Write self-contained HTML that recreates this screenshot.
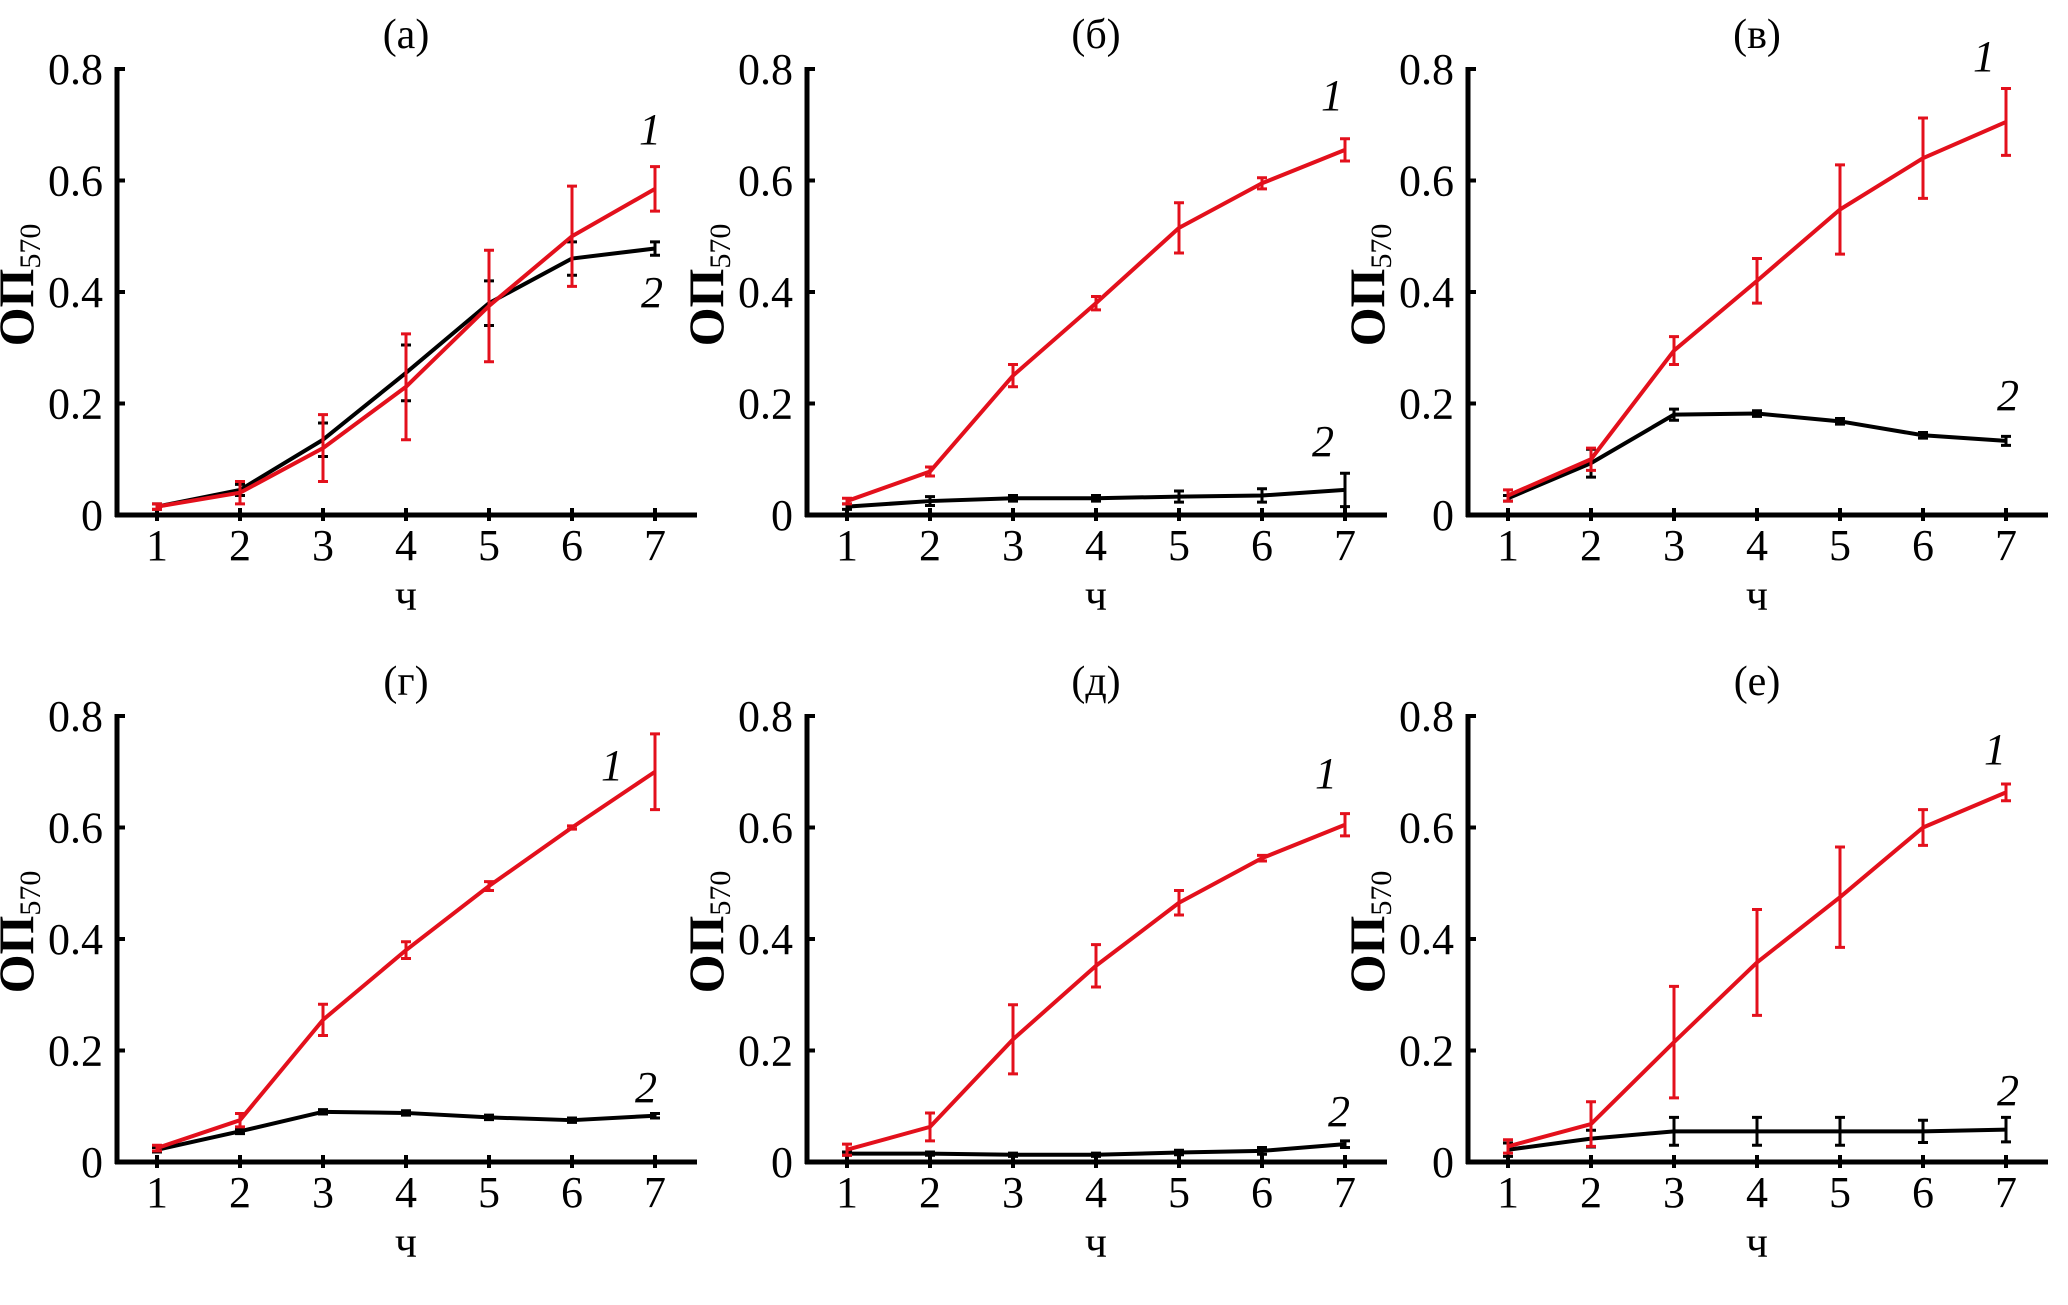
<!DOCTYPE html>
<html><head><meta charset="utf-8"><style>
html,body{margin:0;padding:0;background:#fff;}
svg{display:block;font-family:"Liberation Serif",serif;}
</style></head><body>
<svg id="fig" width="2068" height="1305" viewBox="0 0 2068 1305" xmlns="http://www.w3.org/2000/svg"></svg>
<script>
const hours = [1,2,3,4,5,6,7];
const yTicks = [0,0.2,0.4,0.6,0.8];
const yTickLabels = ["0","0.2","0.4","0.6","0.8"];
const panelTitles = ["(а)","(б)","(в)","(г)","(д)","(е)"];
const redA=[0.015,0.04,0.12,0.23,0.375,0.5,0.585], redErrA=[0.005,0.02,0.06,0.095,0.1,0.09,0.04];
const blkA=[0.015,0.045,0.135,0.255,0.38,0.46,0.478], blkErrA=[0.005,0.01,0.03,0.05,0.04,0.03,0.012];
const redB=[0.025,0.078,0.25,0.38,0.515,0.595,0.655], redErrB=[0.005,0.008,0.02,0.012,0.045,0.01,0.02];
const blkB=[0.015,0.025,0.03,0.03,0.033,0.035,0.045], blkErrB=[0.005,0.008,0.005,0.005,0.01,0.012,0.03];
const redC=[0.035,0.1,0.295,0.42,0.548,0.64,0.705], redErrC=[0.01,0.02,0.025,0.04,0.08,0.072,0.06];
const blkC=[0.03,0.093,0.18,0.182,0.168,0.143,0.133], blkErrC=[0.005,0.025,0.01,0.005,0.005,0.005,0.008];
const redD=[0.025,0.075,0.255,0.38,0.495,0.6,0.7], redErrD=[0.005,0.012,0.028,0.015,0.008,0.003,0.068];
const blkD=[0.022,0.055,0.09,0.088,0.08,0.075,0.083], blkErrD=[0.004,0.004,0.004,0.004,0.004,0.004,0.004];
const redE=[0.022,0.063,0.22,0.352,0.465,0.545,0.605], redErrE=[0.01,0.025,0.062,0.038,0.022,0.005,0.02];
const blkE=[0.015,0.015,0.013,0.013,0.017,0.02,0.032], blkErrE=[0.003,0.003,0.003,0.003,0.004,0.006,0.006];
const redF=[0.028,0.068,0.215,0.358,0.475,0.6,0.663], redErrF=[0.012,0.04,0.1,0.095,0.09,0.032,0.015];
const blkF=[0.022,0.042,0.055,0.055,0.055,0.055,0.058], blkErrF=[0.012,0.015,0.025,0.025,0.025,0.02,0.022];

const NS="http://www.w3.org/2000/svg";
const svg=document.getElementById('fig');
function mk(tag,attrs,parent){const e=document.createElementNS(NS,tag);for(const k in attrs)e.setAttribute(k,attrs[k]);(parent||svg).appendChild(e);return e;}
const RED="#e3101c";
const panels=[
 {ax:117,y0:515,red:redA,re:redErrA,blk:blkA,be:blkErrA,l1:[650,129],l2:[652,292]},
 {ax:807,y0:515,red:redB,re:redErrB,blk:blkB,be:blkErrB,l1:[1332,95],l2:[1323,441]},
 {ax:1468,y0:515,red:redC,re:redErrC,blk:blkC,be:blkErrC,l1:[1984,56],l2:[2008,395]},
 {ax:117,y0:1162,red:redD,re:redErrD,blk:blkD,be:blkErrD,l1:[612,765],l2:[646,1087]},
 {ax:807,y0:1162,red:redE,re:redErrE,blk:blkE,be:blkErrE,l1:[1326,773],l2:[1339,1111]},
 {ax:1468,y0:1162,red:redF,re:redErrF,blk:blkF,be:blkErrF,l1:[1995,749],l2:[2008,1090]}
];
panels.forEach((p,i)=>{
  const g=mk('g',{});
  
  
  const X=h=>p.ax+40+(h-1)*83;
  const Y=v=>p.y0-v/0.8*446;
  const xEnd=X(7)+42;
  const ya=mk('line',{x1:p.ax,y1:Y(0.8)-2,x2:p.ax,y2:p.y0+2,stroke:'#000','stroke-width':5},g);
  
  
  const xa=mk('line',{x1:p.ax-2,y1:p.y0,x2:xEnd,y2:p.y0,stroke:'#000','stroke-width':5},g);
  
  
  yTicks.forEach((v,k)=>{
    mk('line',{x1:p.ax,y1:Y(v),x2:p.ax+8,y2:Y(v),stroke:'#000','stroke-width':4},g);
    const t=mk('text',{x:p.ax-14,y:Y(v)+15,'text-anchor':'end','font-size':44},g);
    t.textContent=yTickLabels[k];
    
    
  });
  hours.forEach(h=>{
    mk('line',{x1:X(h),y1:p.y0-7,x2:X(h),y2:p.y0+6,stroke:'#000','stroke-width':4},g);
    const t=mk('text',{x:X(h),y:p.y0+45,'text-anchor':'middle','font-size':44},g);
    t.textContent=String(h);
    
    
  });
  const xl=mk('text',{x:X(4),y:p.y0+95,'text-anchor':'middle','font-size':44},g);
  xl.textContent='ч';
  
  
  const ti=mk('text',{x:X(4),y:p.y0-467,'text-anchor':'middle','font-size':42},g);
  ti.textContent=panelTitles[i];
  
  
  const yc=p.y0-230;
  const yl=mk('text',{x:0,y:0,transform:`translate(${p.ax-84},${yc}) rotate(-90)`,'text-anchor':'middle','font-size':50,'font-weight':'bold'},g);
  
  
  yl.innerHTML='ОП<tspan font-size="30" font-weight="normal" dy="7">570</tspan>';
  [[p.blk,p.be,'#000','series-2'],[p.red,p.re,RED,'series-1']].forEach(([vals,errs,col,nm])=>{
    const sg=mk('g',{},g);
    
    
    const pts=vals.map((v,k)=>X(hours[k])+','+Y(v)).join(' ');
    const pl=mk('polyline',{points:pts,fill:'none',stroke:col,'stroke-width':4,'stroke-linejoin':'round'},sg);
    
    
    vals.forEach((v,k)=>{
      const x=X(hours[k]),e=errs[k];
      const eb=mk('path',{d:`M${x},${Y(v-e)}V${Y(v+e)}M${x-5},${Y(v-e)}H${x+5}M${x-5},${Y(v+e)}H${x+5}`,stroke:col,'stroke-width':3,fill:'none'},sg);
      
      
    });
  });
  const a1=mk('text',{x:p.l1[0],y:p.l1[1]+15,'text-anchor':'middle','font-size':44,'font-style':'italic'},g);
  a1.textContent='1';
  
  
  const a2=mk('text',{x:p.l2[0],y:p.l2[1]+15,'text-anchor':'middle','font-size':44,'font-style':'italic'},g);
  a2.textContent='2';
  
  
});
</script>
</body></html>
